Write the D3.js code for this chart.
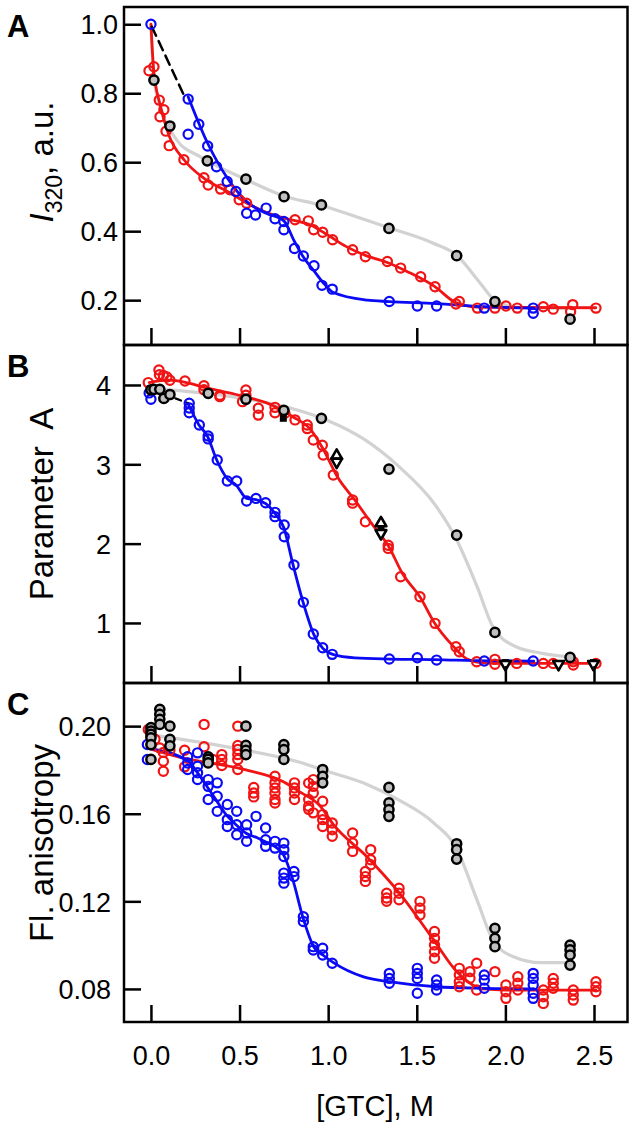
<!DOCTYPE html>
<html><head><meta charset="utf-8">
<script src="https://cdn.jsdelivr.net/npm/d3@7"></script>
<style>
html,body{margin:0;padding:0;background:#fff;}
svg{display:block;font-family:"Liberation Sans",Arial,Helvetica,sans-serif;}
</style></head>
<body>
<svg id="chart" width="636" height="1139"></svg>
<script>
// ---------------- DATA ----------------
const xTicks = [0, 0.5, 1.0, 1.5, 2.0, 2.5];
const xTickLabels = ["0.0", "0.5", "1.0", "1.5", "2.0", "2.5"];
const aTicks = [0.2, 0.4, 0.6, 0.8, 1.0];
const aTickLabels = ["0.2", "0.4", "0.6", "0.8", "1.0"];
const bTicks = [1, 2, 3, 4];
const bTickLabels = ["1", "2", "3", "4"];
const cTicks = [0.08, 0.12, 0.16, 0.20];
const cTickLabels = ["0.08", "0.12", "0.16", "0.20"];
const panelLetters = ["A", "B", "C"];
const xTitle = "[GTC], M";

// Panel A: I320 (points [GTC, value])
const A_blue = [[0,1.0],[0.21,0.783],[0.21,0.681],[0.27,0.71],[0.32,0.647],[0.37,0.587],[0.43,0.544],[0.48,0.515],[0.54,0.452],[0.59,0.447],[0.65,0.467],[0.70,0.436],[0.75,0.428],[0.75,0.404],[0.81,0.35],[0.86,0.328],[0.92,0.30],[0.965,0.243],[1.023,0.232],[1.345,0.196],[1.503,0.183],[1.612,0.183],[1.881,0.177],[2.157,0.177],[2.157,0.162]];
const A_red = [[-0.011,0.865],[0.017,0.877],[0.047,0.78],[0.073,0.752],[0.051,0.732],[0.085,0.69],[0.103,0.648],[0.186,0.607],[0.299,0.555],[0.323,0.534],[0.393,0.522],[0.446,0.52],[0.498,0.491],[0.54,0.481],[0.813,0.433],[0.888,0.43],[0.918,0.404],[0.969,0.397],[1.025,0.375],[1.138,0.346],[1.21,0.326],[1.334,0.312],[1.409,0.293],[1.522,0.268],[1.603,0.239],[1.721,0.189],[1.74,0.196],[1.842,0.177],[1.941,0.177],[2.003,0.183],[2.067,0.177],[2.214,0.181],[2.27,0.174],[2.38,0.187],[2.368,0.167],[2.511,0.177]];
const A_gray = [[0.017,0.838],[0.107,0.705],[0.318,0.604],[0.536,0.551],[0.751,0.50],[0.962,0.476],[1.343,0.408],[1.725,0.329],[1.941,0.196],[2.365,0.145]];
const A_blueFit = [[0.21,0.79],[0.32,0.655],[0.43,0.555],[0.54,0.486],[0.65,0.452],[0.75,0.43],[0.81,0.37],[0.86,0.325],[0.92,0.285],[0.97,0.252],[1.03,0.222],[1.22,0.20],[1.345,0.196],[1.61,0.19],[1.88,0.181],[2.16,0.177]];
const A_redFit = [[0,1.0],[0.015,0.87],[0.05,0.77],[0.1,0.68],[0.19,0.605],[0.3,0.553],[0.45,0.51],[0.54,0.482],[0.7,0.445],[0.8,0.432],[0.9,0.418],[1.0,0.388],[1.1,0.356],[1.21,0.33],[1.33,0.31],[1.45,0.282],[1.6,0.24],[1.72,0.193],[1.84,0.18],[2.0,0.179],[2.51,0.178]];
const A_grayFit = [[0,1.0],[0.017,0.84],[0.06,0.75],[0.145,0.665],[0.277,0.616],[0.536,0.55],[0.75,0.502],[0.96,0.475],[1.15,0.443],[1.343,0.41],[1.593,0.365],[1.725,0.33],[1.857,0.25],[1.94,0.2],[2.06,0.18],[2.37,0.176]];
const A_dash = [[0.005,0.993],[0.19,0.79]];

// Panel B: parameter A
const B_blue = [[-0.01,3.9],[0.0,3.82],[0.216,3.77],[0.216,3.71],[0.216,3.65],[0.273,3.495],[0.323,3.357],[0.323,3.32],[0.374,3.054],[0.431,2.79],[0.484,2.79],[0.54,2.537],[0.593,2.57],[0.647,2.516],[0.70,2.394],[0.70,2.34],[0.752,2.235],[0.752,2.087],[0.807,1.73],[0.86,1.26],[0.916,0.86],[0.969,0.687],[1.023,0.604],[1.345,0.545],[1.503,0.561],[1.612,0.532],[1.881,0.52],[2.157,0.52]];
const B_red = [[-0.015,4.03],[0.045,4.19],[0.048,4.13],[0.07,4.12],[0.09,4.1],[0.107,4.06],[0.192,4.05],[0.299,3.99],[0.299,3.94],[0.389,3.87],[0.389,3.853],[0.536,3.937],[0.536,3.87],[0.517,3.79],[0.606,3.706],[0.606,3.62],[0.70,3.718],[0.70,3.65],[0.756,3.643],[0.813,3.56],[0.882,3.495],[0.882,3.45],[0.916,3.306],[0.967,3.24],[0.972,3.117],[1.029,2.865],[1.138,2.55],[1.138,2.51],[1.21,2.276],[1.339,1.98],[1.339,1.94],[1.409,1.583],[1.518,1.33],[1.603,0.995],[1.721,0.70],[1.74,0.637],[1.838,0.51],[1.941,0.541],[1.941,0.48],[2.064,0.49],[2.214,0.49],[2.27,0.49],[2.383,0.51],[2.383,0.47],[2.511,0.49]];
const B_gray = [[0,3.94],[0.017,3.945],[0.05,3.945],[0.073,3.83],[0.107,3.88],[0.323,3.895],[0.536,3.82],[0.75,3.68],[0.962,3.58],[1.343,2.94],[1.725,2.108],[1.941,0.88],[2.365,0.566]];
const B_triUp = [[1.048,3.12],[1.298,2.27]];
const B_triDown = [[1.048,3.02],[1.298,2.12],[2.0,0.47],[2.30,0.47],[2.497,0.47]];
const B_square = [[0.747,3.58],[1.298,2.2],[2.0,0.5],[2.497,0.5]];
const B_blueFit = [[0.21,3.76],[0.27,3.5],[0.32,3.35],[0.37,3.06],[0.43,2.82],[0.48,2.74],[0.54,2.57],[0.6,2.55],[0.65,2.5],[0.7,2.38],[0.75,2.2],[0.8,1.75],[0.86,1.25],[0.92,0.85],[0.97,0.68],[1.03,0.6],[1.15,0.56],[1.35,0.545],[1.6,0.538],[1.9,0.522],[2.16,0.52]];
const B_blueStart = [[-0.015,3.98],[0.0,3.95]];
const B_redFit = [[-0.01,4.03],[0.1,4.06],[0.2,4.03],[0.3,3.97],[0.5,3.87],[0.7,3.73],[0.8,3.6],[0.9,3.44],[0.97,3.2],[1.05,2.85],[1.15,2.55],[1.25,2.24],[1.34,1.97],[1.42,1.62],[1.52,1.32],[1.6,1.0],[1.7,0.72],[1.78,0.55],[1.86,0.5],[2.0,0.49],[2.51,0.49]];
const B_grayFit = [[0,3.95],[0.2,3.92],[0.4,3.87],[0.6,3.8],[0.8,3.7],[1.0,3.55],[1.2,3.32],[1.4,2.97],[1.6,2.5],[1.72,2.07],[1.84,1.46],[1.93,0.95],[2.06,0.7],[2.2,0.62],[2.37,0.57]];
const B_dash = [[0.08,3.88],[0.21,3.77]];

// Panel C: fluorescence anisotropy ([GTC, replicate values...])
const C_blue = [[-0.02,0.1916,0.1848],[0.207,0.186,0.1832,0.1802],[0.263,0.1878,0.1817,0.1787,0.1756],[0.323,0.1756,0.1725,0.1665],[0.374,0.1741,0.168,0.1611],[0.431,0.1642,0.1573,0.1542],[0.484,0.1611,0.155,0.1504],[0.54,0.155,0.1512,0.1474],[0.593,0.1588],[0.647,0.1535,0.1481,0.1451],[0.70,0.1474,0.1443],[0.75,0.1466,0.1436,0.1405,0.1329,0.1306,0.1283],[0.807,0.1336,0.1313],[0.86,0.113,0.1108],[0.916,0.0993,0.0978],[0.969,0.0986,0.0955],[1.023,0.0917],[1.345,0.0871,0.0848,0.0826],[1.503,0.0894,0.0871,0.0848,0.078],[1.612,0.0841,0.0818,0.0795],[1.881,0.0864,0.0841,0.0803],[2.157,0.0871,0.0848,0.0818,0.078,0.0757]];
const C_red = [[-0.015,0.1985],[0.023,0.194],[0.05,0.19],[0.07,0.188,0.184,0.1794],[0.107,0.189],[0.19,0.189,0.1814],[0.30,0.2008,0.1906],[0.35,0.1848],[0.40,0.187,0.1848,0.182],[0.49,0.200,0.1912,0.1893,0.187,0.1848,0.1802],[0.58,0.172,0.1695,0.1677],[0.70,0.1771,0.1741,0.1718,0.1695,0.1665,0.1649],[0.81,0.1741,0.1718,0.1695,0.1665],[0.89,0.174,0.1665,0.1634,0.162],[0.916,0.1756,0.1725,0.1695,0.1604],[0.969,0.1657,0.1596,0.1573,0.1542],[1.023,0.1558,0.1527,0.1497],[1.138,0.1512,0.1466,0.1428],[1.21,0.1336,0.1313,0.1291],[1.24,0.1436,0.139,0.1367],[1.33,0.1237,0.1215,0.12],[1.40,0.126,0.1237,0.1207],[1.518,0.12,0.1169,0.1138],[1.60,0.1062,0.1031,0.1001,0.097,0.094],[1.74,0.0894,0.0864,0.0833,0.081],[1.80,0.0879,0.0849],[1.838,0.0917,0.0795],[1.941,0.0879],[2.003,0.0818,0.0787,0.0757],[2.07,0.0856,0.0826,0.0795],[2.214,0.0795,0.0764,0.0734],[2.27,0.0848,0.0826,0.0803],[2.383,0.0795,0.0772,0.0749],[2.511,0.0833,0.081,0.0787]];
const C_gray = [[0,0.1993,0.1977,0.1962,0.1947,0.1916,0.1848],[0.05,0.2077,0.2054,0.2031,0.2008],[0.107,0.200,0.194,0.191],[0.323,0.186,0.1848,0.1832],[0.536,0.200,0.1912,0.189,0.187],[0.75,0.1916,0.1893,0.1848],[0.969,0.1802,0.1771,0.1741],[1.343,0.172,0.165,0.1619,0.1588],[1.725,0.1463,0.1436,0.1393],[1.941,0.1077,0.1031,0.0993],[2.365,0.100,0.0978,0.0955,0.0909]];
const C_blueFit = [[-0.02,0.19],[0.21,0.184],[0.26,0.179],[0.32,0.172],[0.37,0.166],[0.43,0.159],[0.48,0.155],[0.54,0.151],[0.6,0.149],[0.65,0.147],[0.7,0.145],[0.75,0.141],[0.8,0.13],[0.86,0.112],[0.92,0.099],[0.97,0.0955],[1.03,0.092],[1.2,0.0855],[1.345,0.0833],[1.61,0.081],[1.88,0.0803],[2.16,0.08]];
const C_redFit = [[-0.02,0.19],[0.18,0.1855],[0.536,0.18],[0.75,0.1745],[0.84,0.17],[0.955,0.1635],[1.03,0.155],[1.217,0.1405],[1.4,0.124],[1.59,0.103],[1.725,0.088],[1.876,0.08],[2.0,0.0795],[2.51,0.0795]];
const C_grayFit = [[0,0.196],[0.5,0.1895],[0.84,0.1835],[0.969,0.18],[1.217,0.1735],[1.405,0.166],[1.593,0.156],[1.725,0.144],[1.838,0.121],[1.932,0.102],[2.046,0.0947],[2.2,0.092],[2.37,0.092]];

// ---------------- DRAW ----------------
const svg = d3.select("#chart");
const FONT = "'Liberation Sans', Arial, Helvetica, sans-serif";
const BLUE = "#0a0af5", RED = "#f01414", GRAYL = "#d2d2d2", GRAYF = "#c0c0c0";
const TICKFS = 27, TITLEFS = 33;

const x = d3.scaleLinear().domain([-0.152, 2.689]).range([124, 627.5]);

const panels = [
  {letter: panelLetters[0], top: 7, bottom: 345, domain: [0.07, 1.05], ticks: aTicks, labels: aTickLabels, titleY: 162, labelX: -6},
  {letter: panelLetters[1], top: 345, bottom: 683, domain: [0.243, 4.504], ticks: bTicks, labels: bTickLabels, titleY: 504, labelX: -13},
  {letter: panelLetters[2], top: 683, bottom: 1022, domain: [0.0649, 0.2197], ticks: cTicks, labels: cTickLabels, titleY: 843, labelX: -13}
];
panels.forEach(p => { p.y = d3.scaleLinear().domain(p.domain).range([p.bottom, p.top]); });

const flatten = groups => groups.flatMap(g => g.slice(1).map(v => [g[0], v]));

function drawLine(g, y, pts, color, width, dash) {
  const line = d3.line().x(d => x(d[0])).y(d => y(d[1])).curve(d3.curveMonotoneX);
  g.append("path").attr("d", line(pts)).attr("fill", "none").attr("stroke", color)
    .attr("stroke-width", width).attr("stroke-linejoin", "round").attr("stroke-linecap", "round")
    .attr("stroke-dasharray", dash || null);
}
function drawPts(g, y, pts, stroke, fill, r, sw) {
  g.append("g").selectAll("circle").data(pts).join("circle")
    .attr("cx", d => x(d[0])).attr("cy", d => y(d[1])).attr("r", r)
    .attr("fill", fill).attr("stroke", stroke).attr("stroke-width", sw);
}
function tri(g, y, pts, up) {
  const s = 5.4;
  g.append("g").selectAll("path").data(pts).join("path")
    .attr("d", d => {
      const cx = x(d[0]), cy = y(d[1]);
      return up ? `M${cx},${cy - s}L${cx + s},${cy + s * 0.75}L${cx - s},${cy + s * 0.75}Z`
                : `M${cx},${cy + s}L${cx + s},${cy - s * 0.75}L${cx - s},${cy - s * 0.75}Z`;
    })
    .attr("fill", "#fff").attr("stroke", "#000").attr("stroke-width", 2.6).attr("stroke-linejoin", "round");
}
function squares(g, y, pts) {
  g.append("g").selectAll("rect").data(pts).join("rect")
    .attr("x", d => x(d[0]) - 3.5).attr("y", d => y(d[1]) - 3.5).attr("width", 7).attr("height", 7)
    .attr("fill", "#000");
}

const defs = svg.append("defs");
panels.forEach((p, i) => {
  defs.append("clipPath").attr("id", "clip" + i).append("rect")
    .attr("x", 124).attr("y", p.top).attr("width", 627.5 - 124).attr("height", p.bottom - p.top);
});
const gData = panels.map((p, i) => svg.append("g").attr("clip-path", `url(#clip${i})`));

const R = 4.6, SW = 2.2;
// Panel A
{
  const g = gData[0], y = panels[0].y;
  drawLine(g, y, A_grayFit, GRAYL, 3.2);
  drawLine(g, y, A_redFit, RED, 2.8);
  drawLine(g, y, A_blueFit, BLUE, 2.8);
  drawLine(g, y, A_dash, "#000", 2.5, "10,6");
  drawPts(g, y, A_red, RED, "none", R, SW);
  drawPts(g, y, A_blue, BLUE, "none", R, SW);
  drawPts(g, y, A_gray, "#000", GRAYF, R, 2.5);
}
// Panel B
{
  const g = gData[1], y = panels[1].y;
  drawLine(g, y, B_grayFit, GRAYL, 3.2);
  drawLine(g, y, B_redFit, RED, 2.8);
  drawLine(g, y, B_blueStart, BLUE, 2.8);
  drawLine(g, y, B_blueFit, BLUE, 2.8);
  drawLine(g, y, B_dash, "#000", 2.2, "6,5");
  drawPts(g, y, B_red, RED, "none", R, SW);
  drawPts(g, y, B_blue, BLUE, "none", R, SW);
  drawPts(g, y, B_gray, "#000", GRAYF, R, 2.5);
  squares(g, y, B_square);
  tri(g, y, B_triUp, true);
  tri(g, y, B_triDown, false);
}
// Panel C
{
  const g = gData[2], y = panels[2].y;
  drawLine(g, y, C_grayFit, GRAYL, 3.2);
  drawLine(g, y, C_redFit, RED, 2.8);
  drawLine(g, y, C_blueFit, BLUE, 2.8);
  drawPts(g, y, flatten(C_red), RED, "none", R, SW);
  drawPts(g, y, flatten(C_blue), BLUE, "none", R, SW);
  drawPts(g, y, flatten(C_gray), "#000", GRAYF, R, 2.5);
}

// Axes & frames
panels.forEach((p, i) => {
  const g = svg.append("g");
  g.append("rect").attr("x", 124).attr("y", p.top).attr("width", 627.5 - 124).attr("height", p.bottom - p.top)
    .attr("fill", "none").attr("stroke", "#000").attr("stroke-width", 2.5);
  const ya = d3.axisRight(p.y).tickValues(p.ticks).tickSize(17).tickFormat("");
  const gy = g.append("g").attr("transform", "translate(124,0)").call(ya);
  gy.select(".domain").remove();
  gy.selectAll("line").attr("stroke", "#000").attr("stroke-width", 2.5);
  gy.selectAll(".tick").append("text")
    .attr("x", p.labelX).attr("dy", "0.36em").attr("text-anchor", "end")
    .attr("fill", "#000").attr("font-size", TICKFS).attr("font-family", FONT)
    .text((d, j) => p.labels[j]);
  const xa = d3.axisTop(x).tickValues(xTicks).tickSize(17).tickFormat("");
  const gx = g.append("g").attr("transform", `translate(0,${p.bottom})`).call(xa);
  gx.select(".domain").remove();
  gx.selectAll("line").attr("stroke", "#000").attr("stroke-width", 2.5);
  if (i === 2) {
    gx.selectAll(".tick").append("text")
      .attr("y", 43).attr("text-anchor", "middle")
      .attr("fill", "#000").attr("font-size", TICKFS).attr("font-family", FONT)
      .text((d, j) => xTickLabels[j]);
  }
  svg.append("text").attr("x", 7).attr("y", p.top + (i === 0 ? 30 : 32))
    .attr("font-size", 31).attr("font-weight", "bold").attr("font-family", FONT).text(p.letter);
});

// y titles
const t0 = svg.append("text").attr("transform", `translate(53,${panels[0].titleY}) rotate(-90)`)
  .attr("text-anchor", "middle").attr("font-size", TITLEFS).attr("font-family", FONT);
t0.append("tspan").attr("font-style", "italic").text("I");
t0.append("tspan").attr("font-size", 23).attr("dy", 9).text("320");
t0.append("tspan").attr("dy", -9).text(", a.u.");

svg.append("text").attr("transform", `translate(53,${panels[1].titleY}) rotate(-90)`)
  .attr("text-anchor", "middle").attr("font-size", TITLEFS).attr("font-family", FONT)
  .attr("xml:space", "preserve").style("white-space", "pre").text("Parameter  A");

svg.append("text").attr("transform", `translate(53,${panels[2].titleY}) rotate(-90)`)
  .attr("text-anchor", "middle").attr("font-size", TITLEFS).attr("font-family", FONT)
  .text("Fl. anisotropy");

svg.append("text").attr("x", 375).attr("y", 1116).attr("text-anchor", "middle")
  .attr("font-size", 29).attr("font-family", FONT).text(xTitle);
</script>
</body></html>
